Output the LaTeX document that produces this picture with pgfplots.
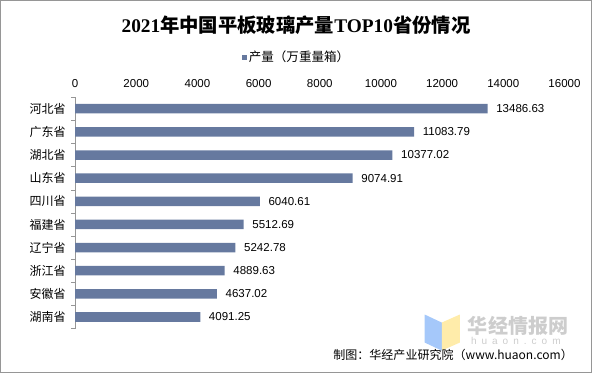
\documentclass[border=0pt]{standalone}
\usepackage{pgfplots}
\pgfplotsset{compat=1.18}
\usepackage{pgfplotstable}
\usepackage{fontspec}
\setmainfont{Liberation Sans}
\newfontfamily\cjk{Noto Sans CJK SC}
\newfontfamily\serifb{Liberation Serif}
\definecolor{barc}{RGB}{102,121,159}
\definecolor{framec}{RGB}{150,150,150}
\definecolor{wmblue}{RGB}{165,200,250}
\definecolor{wmyellow}{RGB}{255,236,170}
\definecolor{wmgray}{RGB}{205,205,205}
\pgfplotstableread{
prov val lab
河北省 13486.63 13486.63
广东省 11083.79 11083.79
湖北省 10377.02 10377.02
山东省 9074.91 9074.91
四川省 6040.61 6040.61
福建省 5512.69 5512.69
辽宁省 5242.78 5242.78
浙江省 4889.63 4889.63
安徽省 4637.02 4637.02
湖南省 4091.25 4091.25
}\data
\begin{document}
\begin{tikzpicture}
\draw[framec, line width=0.8pt] (0.4pt,-0.4pt) rectangle (590.6pt,-371.6pt);
% title
\node[anchor=center, inner sep=0] at (295.5pt,-25pt)
  {\fontsize{19.3}{20}\selectfont\bfseries{\serifb 2021}{\cjk 年中国平板玻璃产量}{\serifb TOP10}{\cjk 省份情况}};
% watermark
\fill[wmblue] (424pt,-314pt) -- (441pt,-322pt) -- (441pt,-350pt) -- (424pt,-342pt) -- cycle;
\fill[wmyellow] (441pt,-322pt) -- (459pt,-314pt) -- (459pt,-342pt) -- (441pt,-350pt) -- cycle;
\node[anchor=west, inner sep=0, text=wmgray] at (467pt,-325pt) {\cjk\bfseries\fontsize{20}{20}\selectfont 华经情报网};
\node[anchor=west, inner sep=0, text=wmgray] at (470pt,-340.5pt) {\fontsize{10}{10}\selectfont h\,\,\,u\,\,\,a\,\,\,o\,\,\,n\,\,\,.\,\,\,c\,\,\,o\,\,\,m};
% source
\node[anchor=east, inner sep=0] at (572pt,-354pt) {\cjk\fontsize{12}{12}\selectfont 制图：华经产业研究院（www.huaon.com）};
\begin{axis}[
  at={(75pt,-97pt)}, anchor=north west,
  scale only axis, width=488.5pt, height=231pt,
  xbar, bar width=9.5pt,
  xmin=0, xmax=16000, ymin=-9.5, ymax=0.5,
  axis x line*=top, axis y line*=left,
  axis line style={-},
  x axis line style={draw=none},
  y axis line style={draw=framec},
  xtick={0,2000,...,16000},
  scaled x ticks=false,
  xtick style={draw=none},
  xticklabel style={font=\fontsize{11.5}{12}\selectfont, yshift=6pt},
  /pgf/number format/assume math mode=true,
  /pgf/number format/1000 sep={},
  ytick={0,-1,...,-9},
  yticklabels from table={\data}{prov},
  yticklabel style={font=\cjk\fontsize{12}{12}\selectfont, xshift=-6pt},
  major tick length=0pt,
  minor ytick={0.5,-0.5,...,-9.5},
  minor tick length=4pt,
  tick align=outside,
  minor y tick style={draw=framec},
  nodes near coords,
  point meta=explicit symbolic,
  nodes near coords style={font=\fontsize{11.5}{12}\selectfont, anchor=west, inner sep=0pt, xshift=8.5pt},
  legend style={at={(0.4524,1.173)}, anchor=center, draw=none, fill=none, font=\cjk\fontsize{12.5}{13}\selectfont, inner sep=0pt},
  legend image code/.code={\fill[barc] (0pt,-2.5pt) rectangle (5pt,2.5pt);},
  clip=false,
]
\addplot[fill=barc, draw=none] table[x=val, y expr=-\coordindex, meta=lab] {\data};
\addlegendentry{产量（万重量箱）}
\end{axis}
\end{tikzpicture}
\end{document}
